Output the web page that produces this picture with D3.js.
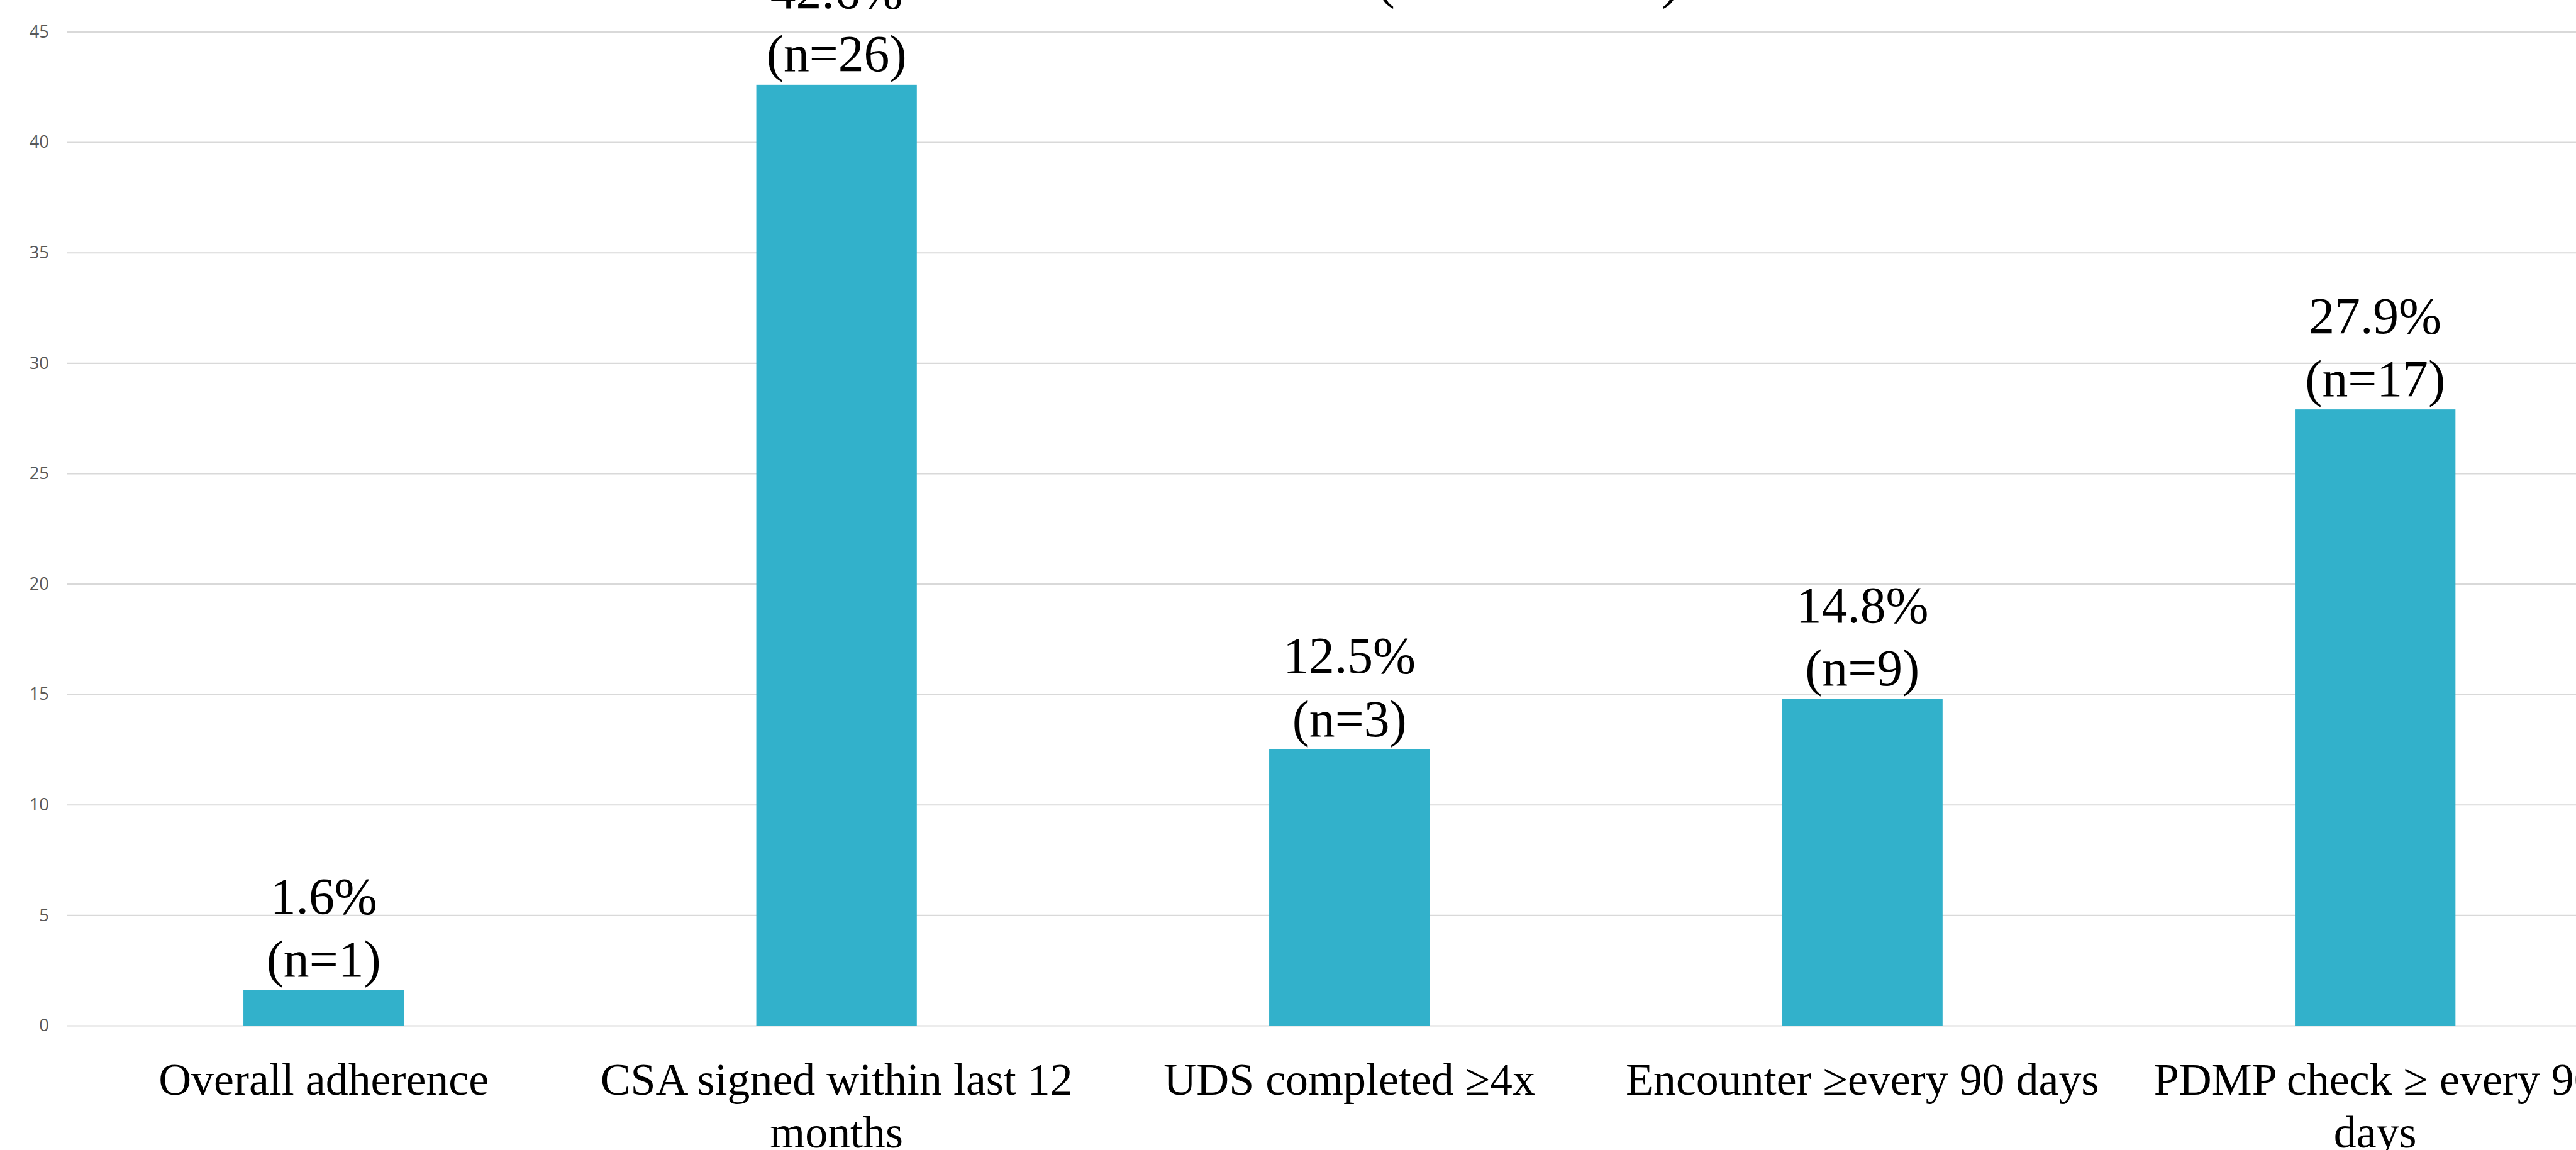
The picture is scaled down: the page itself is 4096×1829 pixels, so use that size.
<!DOCTYPE html>
<html>
<head>
<meta charset="utf-8">
<script src="https://cdn.jsdelivr.net/npm/d3@7"></script>
<style>
  html, body { margin: 0; padding: 0; background: #ffffff; overflow: hidden; }
  svg { display: block; }
</style>
</head>
<body>
<svg id="chart" width="4096" height="1829"></svg>
<script>
// Adherence measures and their results
const categories = [
  "Overall adherence",
  "CSA signed within last 12 months",
  "UDS completed ≥4x",
  "Encounter ≥every 90 days",
  "PDMP check ≥ every 90 days"
];
const percentValues = [1.6, 42.6, 12.5, 14.8, 27.9];
const counts = [1, 26, 3, 9, 17];
const yTicks = [0, 5, 10, 15, 20, 25, 30, 35, 40, 45];
const subtitle = "(Total N = 61)";

// Layout is written in a 4214 x 1882 design space and scaled to the window
const W = 4214, H = 1882;
const scale = 4096 / W;

const svg = d3.select("#chart");
const g = svg.append("g").attr("transform", `scale(${scale})`);

const plotLeft = 110, plotBottom = 1678, plotTop = 52;
const step = 839;

const x = d3.scaleBand()
  .domain(categories)
  .range([plotLeft, plotLeft + step * categories.length])
  .paddingInner(0.687)
  .paddingOuter(0.3435);

const y = d3.scaleLinear()
  .domain([0, 45])
  .range([plotBottom, plotTop]);

// Horizontal gridlines with value labels
const yAxis = d3.axisLeft(y)
  .tickValues(yTicks)
  .tickSize(-(W - plotLeft))
  .tickPadding(30)
  .tickFormat(d3.format("d"));

const ya = g.append("g")
  .attr("transform", `translate(${plotLeft},0)`)
  .call(yAxis);
ya.select(".domain").remove();
ya.selectAll(".tick line")
  .attr("stroke", "#d9d9d9")
  .attr("stroke-width", 2.2);
ya.selectAll(".tick text")
  .attr("fill", "#595959")
  .attr("font-family", "'Open Sans', 'Noto Sans', sans-serif")
  .attr("font-size", 28);

// Subtitle at the top
g.append("text")
  .attr("x", 2500)
  .attr("y", -4)
  .attr("text-anchor", "middle")
  .attr("font-family", "'Liberation Serif', 'Times New Roman', serif")
  .attr("font-size", 86)
  .attr("fill", "#000")
  .text(subtitle);

const rows = categories.map((c, i) => ({ cat: c, v: percentValues[i], n: counts[i] }));

// Bars
g.append("g").selectAll("rect")
  .data(rows)
  .join("rect")
  .attr("x", d => x(d.cat))
  .attr("width", x.bandwidth())
  .attr("y", d => y(d.v))
  .attr("height", d => y(0) - y(d.v))
  .attr("fill", "#32b1cb");

// Value labels above the bars
const serif = "'Liberation Serif', 'Times New Roman', serif";
const labelSize = 84, labelGap = 103;
const vl = g.append("g").selectAll("text")
  .data(rows)
  .join("text")
  .attr("text-anchor", "middle")
  .attr("font-family", serif)
  .attr("font-size", labelSize)
  .attr("fill", "#000");
vl.append("tspan")
  .attr("x", d => x(d.cat) + x.bandwidth() / 2)
  .attr("y", d => y(d.v) - 22 - labelGap)
  .text(d => `${d.v.toFixed(1)}%`);
vl.append("tspan")
  .attr("x", d => x(d.cat) + x.bandwidth() / 2)
  .attr("y", d => y(d.v) - 22)
  .text(d => `(n=${d.n})`);

// Category labels, wrapped to the slot width
const catSize = 74, catLine = 87, catBaseline = 1791;
const maxWidth = x.step() * 0.96;
const cl = g.append("g").selectAll("text")
  .data(rows)
  .join("text")
  .attr("text-anchor", "middle")
  .attr("font-family", serif)
  .attr("font-size", catSize)
  .attr("fill", "#000");

cl.each(function (d) {
  const t = d3.select(this);
  const cx = x(d.cat) + x.bandwidth() / 2;
  const words = d.cat.split(" ");
  let line = [];
  let lineNo = 0;
  let span = t.append("tspan").attr("x", cx).attr("y", catBaseline);
  words.forEach(w => {
    line.push(w);
    span.text(line.join(" "));
    if (span.node().getComputedTextLength() > maxWidth && line.length > 1) {
      line.pop();
      span.text(line.join(" "));
      line = [w];
      lineNo += 1;
      span = t.append("tspan")
        .attr("x", cx)
        .attr("y", catBaseline + lineNo * catLine)
        .text(w);
    }
  });
});
</script>
</body>
</html>
